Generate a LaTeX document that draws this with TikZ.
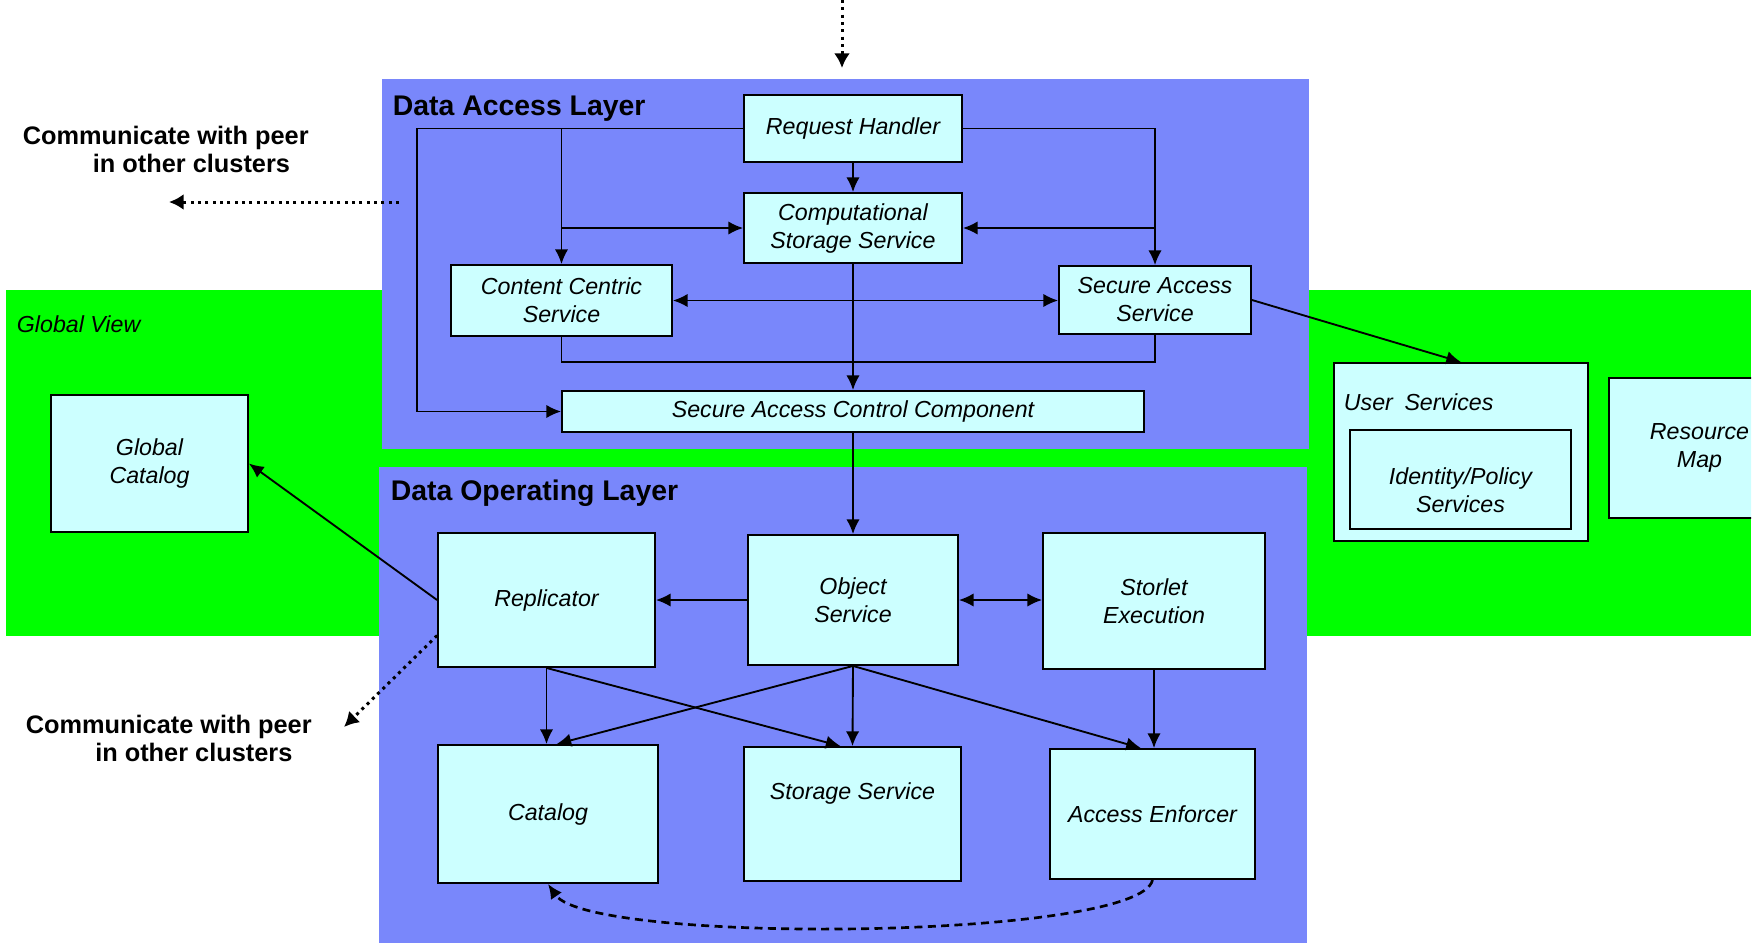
\documentclass[tikz,border=0pt]{standalone}
\usepackage{fontspec}
\setmainfont{Liberation Sans}
\usetikzlibrary{arrows.meta}

\definecolor{layerblue}{HTML}{7987FB}
\definecolor{viewgreen}{HTML}{00FF00}
\definecolor{boxcyan}{HTML}{CCFFFF}

\tikzset{every picture/.style={line width=1.4pt}}
\tikzset{
  box/.style={draw, fill=boxcyan, inner sep=0pt, align=center,
    font=\fontsize{17.4}{21}\selectfont\itshape},
  lbl/.style={inner sep=0pt, align=center, font=\fontsize{17.4}{21}\selectfont\itshape},
  title/.style={anchor=west, inner sep=0pt, font=\fontsize{21.3}{25}\selectfont\bfseries},
  peertext/.style={anchor=west, inner sep=0pt, align=left,
    font=\fontsize{19}{21}\selectfont\bfseries},
  arr/.style={-{Latex[length=11pt,width=10pt]}},
  dblarr/.style={{Latex[length=11pt,width=10pt]}-{Latex[length=11pt,width=10pt]}},
  peerarr/.style={dash pattern=on 2.25pt off 3.25pt, line width=2.25pt, -{Latex[length=11pt,width=12pt]}},
  backarr/.style={dash pattern=on 6pt off 4pt, line width=2pt, -{Latex[length=11pt,width=10pt]}}
}

\begin{document}
\begin{tikzpicture}[x=0.75pt,y=0.75pt,yscale=-1,xscale=1]
\useasboundingbox (0,0) rectangle (1760,943);

%Shape: Rectangle [global view]
\fill[viewgreen] (6,290) rectangle (1751,636);
%Shape: Rectangle [data access layer]
\fill[layerblue] (382,79) rectangle (1309,449);
%Shape: Rectangle [data operating layer]
\fill[layerblue] (379,467) rectangle (1307,943);

% Text Node
\node[title] (daltitle) at (392,109) {Data Access Layer};
% Text Node
\node[title] (doltitle) at (390,493) {Data Operating Layer};
% Text Node
\node[lbl, anchor=west] (gvtitle) at (16,324) {Global View};
% Text Node
\node[peertext] (peertxtA) at (22,149) {Communicate with peer\\\hspace*{52.5pt}in other clusters};
% Text Node
\node[peertext] (peertxtB) at (25,738.5) {Communicate with peer\\\hspace*{52pt}in other clusters};

%Data access layer boxes
\node[box, minimum width=163.5pt, minimum height=50.25pt] (rh) at (853,128.5) {Request Handler};
\node[box, minimum width=163.5pt, minimum height=52.5pt] (css) at (853,228) {Computational\\Storage Service};
\node[box, minimum width=165.75pt, minimum height=53.25pt] (ccs) at (561.5,300.5) {Content Centric\\Service};
\node[box, minimum width=144pt, minimum height=51pt] (sas) at (1155,300) {Secure Access\\Service};
\node[box, minimum width=436.5pt, minimum height=30.75pt] (sacc) at (853,411.5) {Secure Access Control Component};

%Global view boxes
\node[box, minimum width=147.75pt, minimum height=102.75pt] (gcat) at (149.5,463.5) {Global\\Catalog};
\node[box, minimum width=190.5pt, minimum height=133.5pt] (usr) at (1461,452) {};
\node[lbl, anchor=west] (usrlbl) at (1343,402) {User\enspace Services};
\node[box, minimum width=165.75pt, minimum height=74.25pt] (idp) at (1460.5,479.5) {};
\node[lbl] (idptxt) at (1460.5,490) {Identity/Policy\\Services};
\begin{scope}
\clip (0,0) rectangle (1751,943);
\node[box, minimum width=135.75pt, minimum height=105pt] (rmap) at (1699.5,448) {Resource\\Map};
\end{scope}

%Data operating layer boxes
\node[box, minimum width=162.75pt, minimum height=100.5pt] (rep) at (546.5,600) {Replicator};
\node[box, minimum width=157.5pt, minimum height=97.5pt] (obj) at (853,600) {Object\\Service};
\node[box, minimum width=166.5pt, minimum height=102pt] (stor) at (1154,601) {Storlet\\Execution};
\node[box, minimum width=165pt, minimum height=103.5pt] (cat) at (548,814) {Catalog};
\node[box, minimum width=162.75pt, minimum height=100.5pt, text height=39pt, text depth=61.5pt] (sts) at (852.5,814) {Storage Service};
\node[box, minimum width=153.75pt, minimum height=97.5pt] (ae) at (1152.5,814) {Access Enforcer};

%Straight Lines [request in]
\coordinate (reqin) at (842,0);
\coordinate (reqtip) at (842,68);
\draw[peerarr] (reqin) -- (reqtip);

%Straight Lines [peer links]
\coordinate (peerA0) at (399,202);
\coordinate (peerA) at (169,202);
\draw[peerarr] (peerA0) -- (peerA);
\coordinate (peerB) at (344,727);
\draw[peerarr] (rep.198) -- (peerB);

%Straight Lines [data access layer]
\coordinate (lbend) at (417,128.5);
\draw[arr] (rh.west) -- (lbend) |- (sacc.west);
\draw[arr] (ccs.north |- rh.west) -- (ccs.north);
\draw[arr] (ccs.north |- css.west) -- (css.west);
\draw[arr] (rh.east) -| (sas.north);
\draw[arr] (sas.north |- css.east) -- (css.east);
\draw[arr] (rh.south) -- (css.north);
\draw[arr] (css.south) -- (sacc.north);
\draw[dblarr] (ccs.east) -- (ccs.east -| sas.west);
\coordinate (join) at (853,362);
\draw (ccs.south) |- (join) -| (sas.south);
\draw[arr] (sas.east) -- (usr.north);

%Straight Lines [data operating layer]
\draw[arr] (sacc.south) -- (obj.north);
\draw[arr] (obj.west) -- (rep.east);
\draw[dblarr] (obj.east) -- (obj.east -| stor.west);
\draw[arr] (rep.west) -- (gcat.east);
\draw[arr] (rep.south) -- (rep.south |- cat.north);
\draw[arr] (rep.south) -- (sts.100);
\draw[arr] (obj.south) -- (cat.83);
\draw[arr] (obj.south) -- (sts.north);
\draw[arr] (obj.south) -- (ae.100);
\draw[arr] (stor.south) -- (stor.south |- ae.north);

%Curve Lines [enforcer back to catalog]
\draw[backarr] (ae.south) .. controls (1140,940) and (590,945) .. (cat.south);

\end{tikzpicture}
\end{document}
